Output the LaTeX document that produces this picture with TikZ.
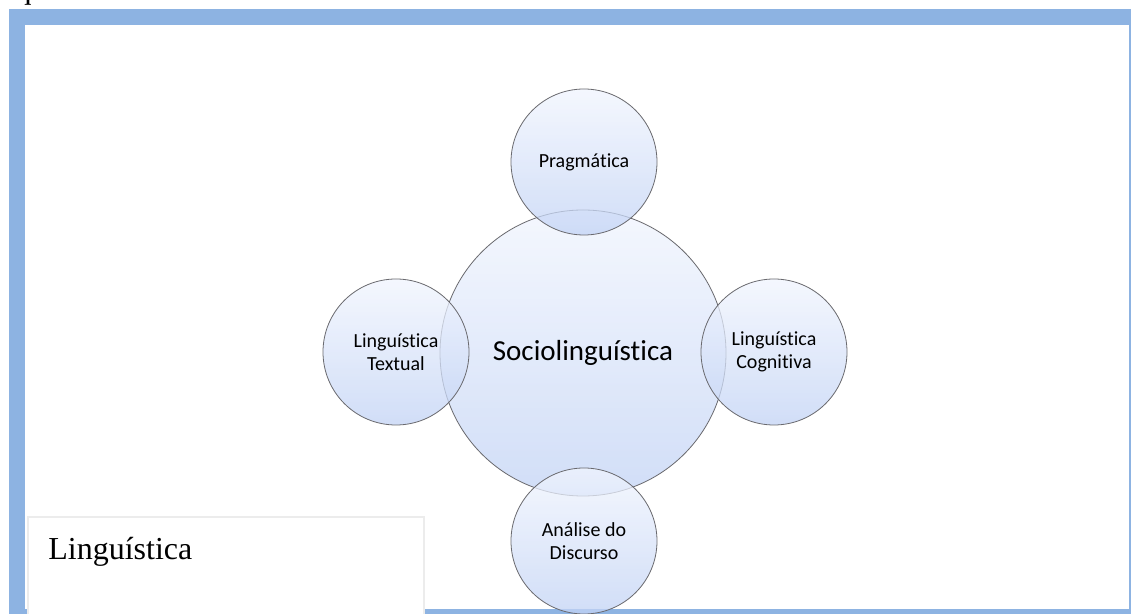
\documentclass[tikz,border=0pt]{standalone}
\usepackage{xcolor}
\usepackage{fontspec}
\setmainfont{Liberation Serif}
\newfontfamily\calibri[Ligatures={NoCommon,NoDiscretionary}]{Carlito}
\definecolor{framecol}{RGB}{141,179,226}
\definecolor{topcol}{RGB}{241,245,254}
\definecolor{botcol}{RGB}{194,211,245}
\definecolor{rimcol}{RGB}{105,105,110}
\definecolor{boxrim}{RGB}{236,236,236}

\begin{document}
\begin{tikzpicture}[x=0.5pt, y=-0.5pt,
    every node/.style={inner sep=0pt},
    bubble/.style={circle, draw=rimcol, line width=0.4pt, top color=topcol,
        bottom color=botcol, fill opacity=0.75, text opacity=1, align=center,
        font=\calibri\fontsize{10}{11.5}\selectfont}]
    \useasboundingbox (0,0) rectangle (1131,614);

    % page frame
    \fill[framecol] (9,9) rectangle (1140,622);
    \fill[white] (25,25) rectangle (1129,609);
    \node[anchor=base west, font=\fontsize{16}{19}\selectfont] (intro) at (1,-1) {aqui abaixo.};

    % central circle and its four neighbours
    \node[bubble, minimum size=143pt, font=\calibri\fontsize{14.5}{17}\selectfont] (socio) at (583,353) {Sociolinguística};
    \node[bubble, minimum size=73pt] (prag) at (584,162) {Pragmática};
    \node[bubble, minimum size=73pt] (textual) at (396,352) {Linguística\\Textual};
    \node[bubble, minimum size=73pt] (cognitiva) at (774,352) {Linguística\\Cognitiva};
    \node[bubble, minimum size=73pt] (discurso) at (584,541) {Análise do\\Discurso};

    % caption box
    \draw[boxrim, fill=white, line width=0.6pt] (28,517) rectangle (424,622);
    \node[anchor=base west, font=\fontsize{16}{19}\selectfont] (titulo) at (48,560) {Linguística};
\end{tikzpicture}
\end{document}
